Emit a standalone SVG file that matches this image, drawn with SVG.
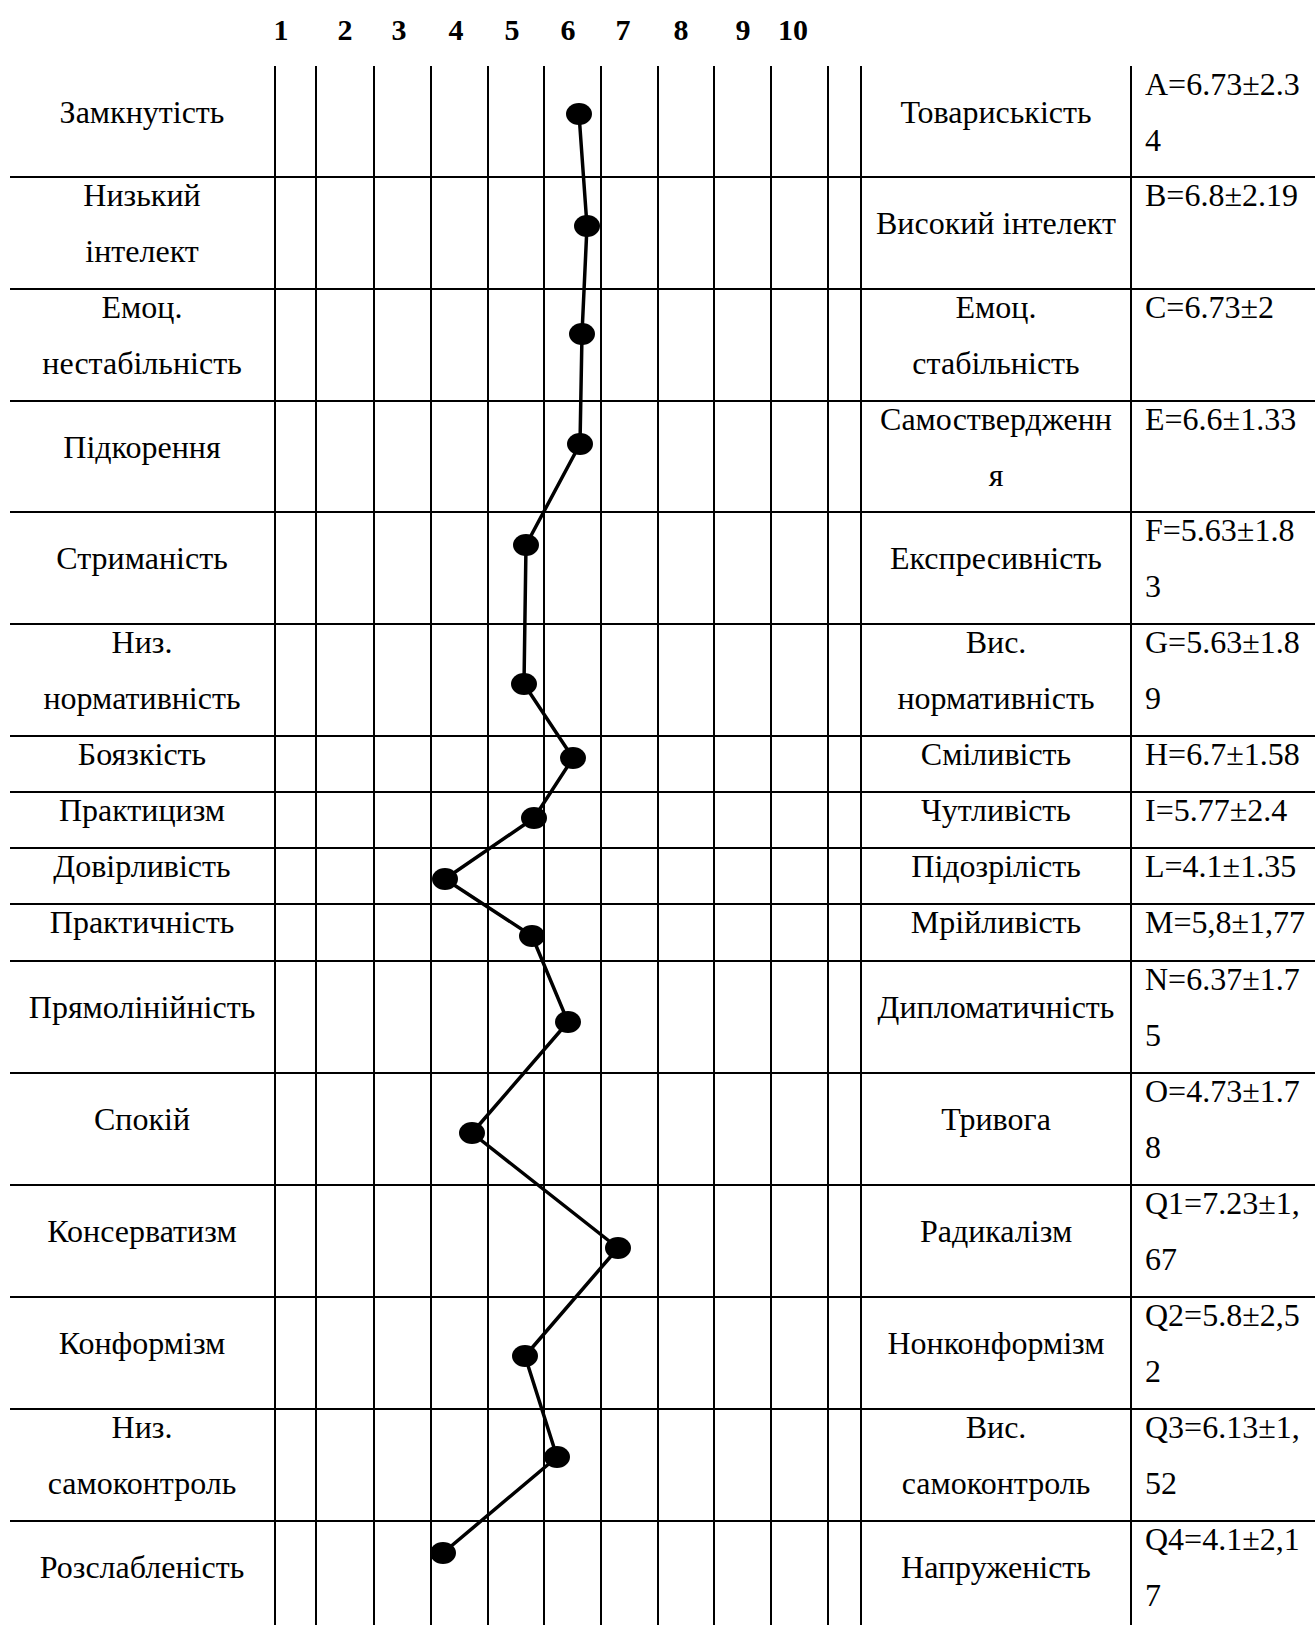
<svg xmlns="http://www.w3.org/2000/svg" width="1315" height="1625" viewBox="0 0 1315 1625">
<style>
.t{font-family:"Liberation Serif","Times New Roman",serif;font-size:32px;fill:#000}
.c{text-anchor:middle}
.h{font-family:"Liberation Serif","Times New Roman",serif;font-size:30px;font-weight:bold;text-anchor:middle;fill:#000}
.g{stroke:#000;stroke-width:2;fill:none}
.pl{stroke:#000;stroke-width:3.5;fill:none;stroke-linejoin:round}
.pt{fill:#000}
</style>
<rect width="1315" height="1625" fill="#fff"/>
<g id="header">
<text class="h" x="281" y="40">1</text>
<text class="h" x="345" y="40">2</text>
<text class="h" x="399" y="40">3</text>
<text class="h" x="456" y="40">4</text>
<text class="h" x="512" y="40">5</text>
<text class="h" x="568" y="40">6</text>
<text class="h" x="623" y="40">7</text>
<text class="h" x="681" y="40">8</text>
<text class="h" x="743" y="40">9</text>
<text class="h" x="793" y="40">10</text>
</g>
<g id="grid" class="g">
<path d="M275 66V1625M316 66V1625M374 66V1625M431 66V1625M488 66V1625M544 66V1625M601 66V1625M658 66V1625M714 66V1625M771 66V1625M828 66V1625M861 66V1625M1131 66V1625"/>
<path d="M10 177H1315M10 289H1315M10 401H1315M10 512H1315M10 624H1315M10 736H1315M10 792H1315M10 848H1315M10 904H1315M10 961H1315M10 1073H1315M10 1185H1315M10 1297H1315M10 1409H1315M10 1521H1315"/>
</g>
<g id="row1"><text class="t c" x="142" y="123">Замкнутість</text><text class="t c" x="996" y="123">Товариськість</text><text class="t" x="1145" y="95">A=6.73±2.3</text><text class="t" x="1145" y="151">4</text></g>
<g id="row2"><text class="t c" x="142" y="206">Низький</text><text class="t c" x="142" y="262">інтелект</text><text class="t c" x="996" y="234">Високий інтелект</text><text class="t" x="1145" y="206">B=6.8±2.19</text></g>
<g id="row3"><text class="t c" x="142" y="318">Емоц.</text><text class="t c" x="142" y="374">нестабільність</text><text class="t c" x="996" y="318">Емоц.</text><text class="t c" x="996" y="374">стабільність</text><text class="t" x="1145" y="318">C=6.73±2</text></g>
<g id="row4"><text class="t c" x="142" y="458">Підкорення</text><text class="t c" x="996" y="430">Самоствердженн</text><text class="t c" x="996" y="486">я</text><text class="t" x="1145" y="430">E=6.6±1.33</text></g>
<g id="row5"><text class="t c" x="142" y="569">Стриманість</text><text class="t c" x="996" y="569">Експресивність</text><text class="t" x="1145" y="541">F=5.63±1.8</text><text class="t" x="1145" y="597">3</text></g>
<g id="row6"><text class="t c" x="142" y="653">Низ.</text><text class="t c" x="142" y="709">нормативність</text><text class="t c" x="996" y="653">Вис.</text><text class="t c" x="996" y="709">нормативність</text><text class="t" x="1145" y="653">G=5.63±1.8</text><text class="t" x="1145" y="709">9</text></g>
<g id="row7"><text class="t c" x="142" y="765">Боязкість</text><text class="t c" x="996" y="765">Сміливість</text><text class="t" x="1145" y="765">H=6.7±1.58</text></g>
<g id="row8"><text class="t c" x="142" y="821">Практицизм</text><text class="t c" x="996" y="821">Чутливість</text><text class="t" x="1145" y="821">I=5.77±2.4</text></g>
<g id="row9"><text class="t c" x="142" y="877">Довірливість</text><text class="t c" x="996" y="877">Підозрілість</text><text class="t" x="1145" y="877">L=4.1±1.35</text></g>
<g id="row10"><text class="t c" x="142" y="933">Практичність</text><text class="t c" x="996" y="933">Мрійливість</text><text class="t" x="1145" y="933">M=5,8±1,77</text></g>
<g id="row11"><text class="t c" x="142" y="1018">Прямолінійність</text><text class="t c" x="996" y="1018">Дипломатичність</text><text class="t" x="1145" y="990">N=6.37±1.7</text><text class="t" x="1145" y="1046">5</text></g>
<g id="row12"><text class="t c" x="142" y="1130">Спокій</text><text class="t c" x="996" y="1130">Тривога</text><text class="t" x="1145" y="1102">O=4.73±1.7</text><text class="t" x="1145" y="1158">8</text></g>
<g id="row13"><text class="t c" x="142" y="1242">Консерватизм</text><text class="t c" x="996" y="1242">Радикалізм</text><text class="t" x="1145" y="1214">Q1=7.23±1,</text><text class="t" x="1145" y="1270">67</text></g>
<g id="row14"><text class="t c" x="142" y="1354">Конформізм</text><text class="t c" x="996" y="1354">Нонконформізм</text><text class="t" x="1145" y="1326">Q2=5.8±2,5</text><text class="t" x="1145" y="1382">2</text></g>
<g id="row15"><text class="t c" x="142" y="1438">Низ.</text><text class="t c" x="142" y="1494">самоконтроль</text><text class="t c" x="996" y="1438">Вис.</text><text class="t c" x="996" y="1494">самоконтроль</text><text class="t" x="1145" y="1438">Q3=6.13±1,</text><text class="t" x="1145" y="1494">52</text></g>
<g id="row16"><text class="t c" x="142" y="1578">Розслабленість</text><text class="t c" x="996" y="1578">Напруженість</text><text class="t" x="1145" y="1550">Q4=4.1±2,1</text><text class="t" x="1145" y="1606">7</text></g>
<g id="connectors">
<polyline class="pl" points="579,114 587,226 582,334 580,444 526,545 524,684 573,758 534,818 445,879 532,936 568,1022 472,1133 618,1248 525,1356 557,1457 443,1553"/>
</g>
<g id="points" class="pt">
<ellipse id="p1" cx="579" cy="114" rx="13" ry="11"/>
<ellipse id="p2" cx="587" cy="226" rx="13" ry="11"/>
<ellipse id="p3" cx="582" cy="334" rx="13" ry="11"/>
<ellipse id="p4" cx="580" cy="444" rx="13" ry="11"/>
<ellipse id="p5" cx="526" cy="545" rx="13" ry="11"/>
<ellipse id="p6" cx="524" cy="684" rx="13" ry="11"/>
<ellipse id="p7" cx="573" cy="758" rx="13" ry="11"/>
<ellipse id="p8" cx="534" cy="818" rx="13" ry="11"/>
<ellipse id="p9" cx="445" cy="879" rx="13" ry="11"/>
<ellipse id="p10" cx="532" cy="936" rx="13" ry="11"/>
<ellipse id="p11" cx="568" cy="1022" rx="13" ry="11"/>
<ellipse id="p12" cx="472" cy="1133" rx="13" ry="11"/>
<ellipse id="p13" cx="618" cy="1248" rx="13" ry="11"/>
<ellipse id="p14" cx="525" cy="1356" rx="13" ry="11"/>
<ellipse id="p15" cx="557" cy="1457" rx="13" ry="11"/>
<ellipse id="p16" cx="443" cy="1553" rx="13" ry="11"/>
</g>
</svg>
